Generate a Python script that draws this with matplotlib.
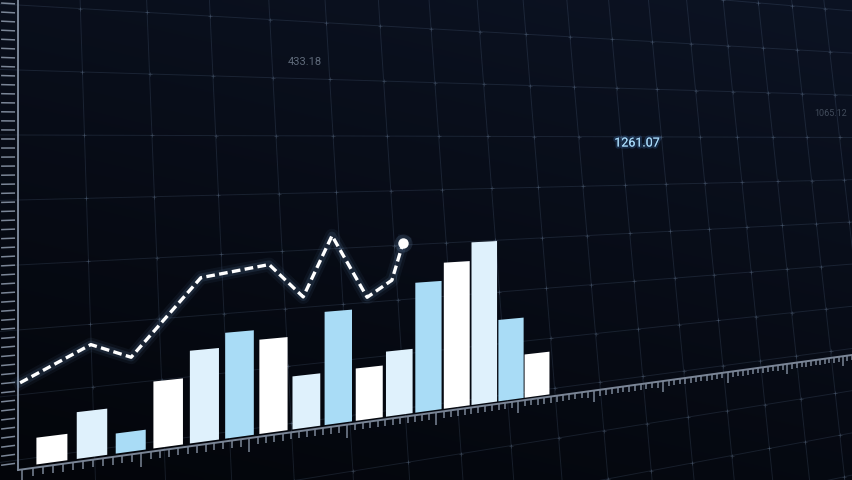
import numpy as np
import matplotlib
matplotlib.use("Agg")
import matplotlib.pyplot as plt
import matplotlib.patheffects as pe
from matplotlib.collections import LineCollection
from matplotlib.transforms import Transform

# bar heights (plane units), one bar per slot
bar_values = [27, 48, 21, 71, 100, 116, 105, 60, 130, 61, 77, 156, 178, 201, 102, 55]
bar_colors = ["#ffffff", "#dff1fc", "#a9dcf6"]

# dashed trend line: slot position and value
line_x = [0.05, 1.79, 2.83, 4.72, 6.69, 7.72, 8.62, 9.75, 10.57, 10.95]
line_y = [84, 116, 99, 178, 188, 149, 217, 143, 161, 205]

# floating readouts
labels = ["433.18", "1261.07", "1065.12"]

# perspective of the chart plane (pixel space, y down)
W, HGT = 852, 480
X0, Y0 = 18, 467          # axis corner
VPX, VPY = 2396, 142      # horizon vanishing point
K = 0.01765
VVX, VVY = -208, -9014    # vanishing point of the grid verticals

H = np.array([[VPX * K, 0, X0],
              [VPY * K, -1, Y0],
              [K, 0, 1]])


class PlaneToPixel(Transform):
    input_dims = output_dims = 2
    is_separable = False

    def __init__(self, mat):
        super().__init__()
        self.mat = np.asarray(mat, float)

    def transform_non_affine(self, values):
        values = np.asarray(values, float).reshape(-1, 2)
        hom = np.column_stack([values, np.ones(len(values))]) @ self.mat.T
        return hom[:, :2] / hom[:, 2:3]


fig = plt.figure(figsize=(W / 100, HGT / 100), dpi=100)
ax = fig.add_axes([0, 0, 1, 1])
ax.axis("off")

plane = PlaneToPixel(H)
tr = plane + ax.transData

# background
yy, xx = np.mgrid[0:1:120j, 0:1:213j]
s = np.clip(0.7 * yy + 0.3 * (1 - xx), 0, 1)[..., None]
top = np.array([12, 19, 35]) / 255
bot = np.array([3, 5, 10]) / 255
ax.imshow(top * (1 - s) + bot * s, extent=(0, W, HGT, 0), aspect="auto",
          zorder=0, interpolation="bilinear")

grid_col = "#9cc0ee"
grid_alpha = 0.12

# horizontal grid lines (constant value in the plane)
grid_v = 72 + 65 * np.arange(-4, 8)
for v in grid_v:
    ax.plot([-1.5, 45], [v, v], transform=tr, color=grid_col, lw=0.7, alpha=grid_alpha, zorder=1)

# vertical grid lines, anchored on the top edge, fanning from a far point above
grid_u = 1.52 + 1.72 * np.arange(0, 30)
x_top = plane.transform(np.column_stack([grid_u, np.zeros_like(grid_u)]))[:, 0]
x_bot = x_top + (x_top - VVX) / (-VVY) * HGT
for a, b in zip(x_top, x_bot):
    ax.plot([a, b], [0, HGT], color=grid_col, lw=0.7, alpha=grid_alpha, zorder=1)

# small glints where grid lines cross
pts = []
for v in grid_v:
    p1, p2 = plane.transform(np.array([[-1.5, v], [45, v]]))
    for a, b in zip(x_top, x_bot):
        q1, q2 = np.array([a, 0.0]), np.array([b, float(HGT)])
        d1, d2 = p2 - p1, q2 - q1
        den = d1[0] * d2[1] - d1[1] * d2[0]
        t = ((q1[0] - p1[0]) * d2[1] - (q1[1] - p1[1]) * d2[0]) / den
        pts.append(p1 + t * d1)
pts = np.array(pts)
ax.scatter(pts[:, 0], pts[:, 1], marker="+", s=10, lw=0.5, color="#b8d4f5", alpha=0.2, zorder=1.5)

# bottom ruler along the baseline
ruler_col = "#7a8596"
ax.plot([0, 45], [-3, -3], transform=tr, color=ruler_col, lw=1.4, zorder=3)
tick_u = np.arange(0.1, 45, 0.25)
segs = []
for i, u in enumerate(tick_u):
    length = 15 if i % 12 == 0 else 8
    segs.append([(u, -3), (u, -3 - length)])
ax.add_collection(LineCollection(segs, colors=ruler_col, linewidths=1.1, transform=tr, zorder=3))

# left ruler
ax.plot([0, 0], [-3, 520], transform=tr, color=ruler_col, lw=1.4, zorder=3)
segs = [[(-0.40, v), (-0.07, v)] for v in np.arange(4, 520, 9)]
ax.add_collection(LineCollection(segs, colors=ruler_col, linewidths=1.1, transform=tr, zorder=3))

# bars
n = len(bar_values)
pos = np.arange(n) + 0.822
widths = np.linspace(0.76, 0.97, n)
ax.bar(pos, bar_values, width=widths, color=[bar_colors[i % 3] for i in range(n)],
       linewidth=0, transform=tr, zorder=5)

# dashed line with glow
for lw, al in [(10, 0.05), (6, 0.1)]:
    ax.plot(line_x, line_y, transform=tr, color="#8fc4ff", lw=lw, alpha=al,
            solid_joinstyle="round", zorder=6)
ax.plot(line_x, line_y, transform=tr, color="white", lw=2.4, dashes=(2.6, 1.3), zorder=7)
ax.plot(line_x[-1:], line_y[-1:], "o", transform=tr, color="#9fd0ff", ms=13, alpha=0.12, mew=0, zorder=7)
ax.plot(line_x[-1:], line_y[-1:], "o", transform=tr, color="white", ms=7.5, mew=0, zorder=8)

# readouts
ax.text(305, 62, labels[0], color="#5f6a7a", fontsize=8, family="Roboto",
        ha="center", va="center", zorder=4)
ax.text(637, 143, labels[1], color="#a9d9f6", fontsize=9, family="Roboto",
        ha="center", va="center", zorder=4,
        path_effects=[pe.withStroke(linewidth=3, foreground=(0.35, 0.65, 1.0, 0.18))])
ax.text(831, 113, labels[2], color="#4f5a6a", fontsize=6.5, family="Roboto",
        ha="center", va="center", alpha=0.8, zorder=4)

ax.set_xlim(0, W)
ax.set_ylim(HGT, 0)
fig.savefig("out.png", dpi=100, facecolor="#0a0f1c")
